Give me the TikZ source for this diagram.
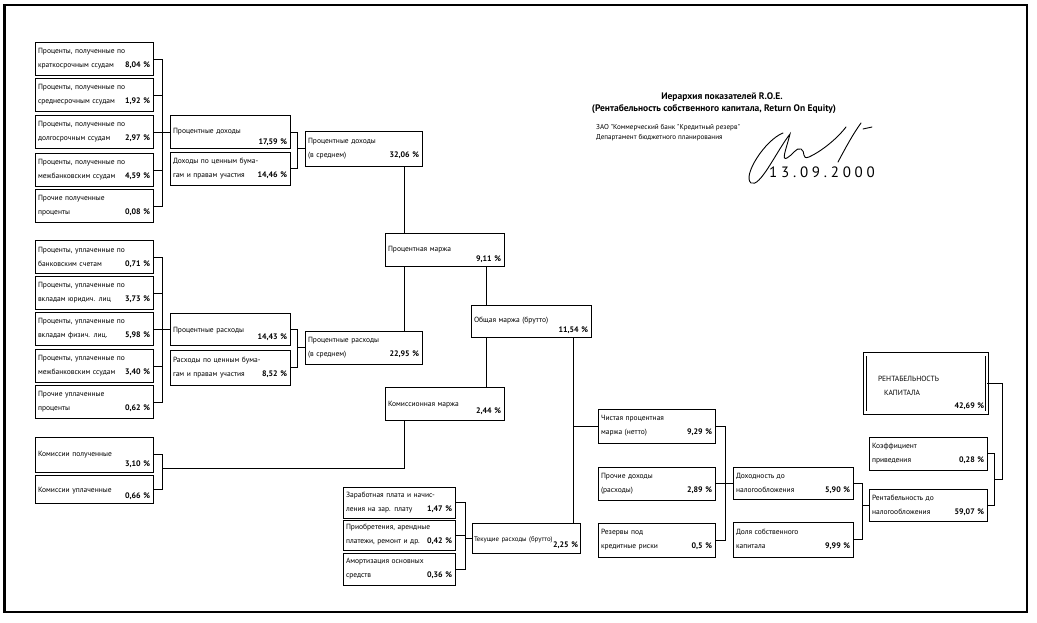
\documentclass[tikz,border=0pt]{standalone}
\usepackage{fontspec}
\newfontfamily\diag{PT Sans}
\newcommand\boxfont{\diag\fontsize{7.5}{14}\selectfont}
\newcommand\pv[1]{{\bfseries\fontsize{8}{14}\selectfont #1~\%}}
\newcommand\pc[1]{\hfill\pv{#1}}
\newcommand\one[3][10pt]{\hbox to\linewidth{\rule{0pt}{15pt}#2\hfill\raisebox{-#1}{\pv{#3}}}}

\begin{document}
\begin{tikzpicture}[x=1pt,y=-1pt,
    ind/.style={draw, line width=0.7pt, inner sep=3pt, text width=#1,
      minimum height=33pt, align=left, font=\boxfont},
    ind/.default=112pt,
    link/.style={line width=0.7pt}]
    \useasboundingbox (0,0) rectangle (1037,622);
    % frame
    \draw[line width=1.5pt] (5,5) rectangle (1027,612);
    \draw[line width=3pt] (4,4) -- (4,613);
    \draw[line width=2.5pt] (3,612) -- (1027,612);
    % heading
    \node[font=\diag\bfseries\fontsize{9.5}{11}\selectfont] (ttl) at (722,97) {Иерархия показателей R.O.E.};
    \node[font=\diag\bfseries\fontsize{9.5}{11}\selectfont] (sub) at (714,109) {(Рентабельность собственного капитала, Return On Equity)};
    \node[font=\diag\fontsize{7.1}{9}\selectfont, anchor=west, inner sep=0pt] (org) at (596,128) {ЗАО "Коммерческий банк "Кредитный резерв"};
    \node[font=\diag\fontsize{7.1}{9}\selectfont, anchor=west, inner sep=0pt] (dept) at (596,137.5) {Департамент бюджетного планирования};
    % signature and date
    \draw[line width=0.9pt, line cap=round] (783,133) .. controls (765,140) and (742,176) .. (751,183)
      .. controls (760,188) and (776,152) .. (790,134) .. controls (786,150) and (781,161) .. (787,158)
      .. controls (793,155) and (796,147) .. (801,149) .. controls (806,151) and (801,160) .. (809,157)
      .. controls (820,152) and (836,140) .. (846,127);
    \draw[line width=0.9pt, line cap=round] (838,162) .. controls (846,147) and (853,134) .. (861,123);
    \draw[line width=0.9pt, line cap=round] (863,129) -- (872,127);
    \node[font=\diag\fontsize{15}{15}\selectfont\addfontfeature{LetterSpace=25}] (date) at (822,172) {13.09.2000};
    % interest received
    \foreach \n/\y/\a/\b/\p in {1/59/{Проценты, полученные по}/{краткосрочным ссудам}/{8,04},
        2/95/{Проценты, полученные по}/{среднесрочным ссудам}/{1,92},
        3/132/{Проценты, полученные по}/{долгосрочным ссудам}/{2,97},
        4/170/{Проценты, полученные по}/{межбанковским ссудам}/{4,59},
        5/206/{Прочие полученные}/{проценты}/{0,08}}
      \node[ind] (k\n) at (94,\y) {\a\\\b\pc{\p}};
    % interest paid
    \foreach \n/\y/\a/\b/\p in {1/257/{Проценты, уплаченные по}/{банковским счетам}/{0,71},
        2/293/{Проценты, уплаченные по}/{вкладам юридич. лиц}/{3,73},
        3/329/{Проценты, уплаченные по}/{вкладам физич. лиц.}/{5,98},
        4/366/{Проценты, уплаченные по}/{межбанковским ссудам}/{3,40},
        5/402/{Прочие уплаченные}/{проценты}/{0,62}}
      \node[ind] (u\n) at (94,\y) {\a\\\b\pc{\p}};
    % commissions
    \node[ind, minimum height=35pt] (km1) at (94,454.5) {\one{Комиссии полученные}{3,10}};
    \node[ind, minimum height=28pt] (km2) at (94,489) {\one[6pt]{Комиссии уплаченные}{0,66}};
    % second level
    \node[ind=114pt, minimum height=30pt] (d1) at (230,132) {\one[11pt]{Процентные доходы}{17,59}};
    \node[ind=114pt] (d2) at (230,168.5) {Доходы по ценным бума-\\гам и правам участия\pc{14,46}};
    \node[ind=114pt, minimum height=32pt] (r1) at (230,329) {\one[7pt]{Процентные расходы}{14,43}};
    \node[ind=114pt, minimum height=35pt] (r2) at (230,367.5) {Расходы по ценным бума-\\гам и правам участия\pc{8,52}};
    \node[ind=111pt, minimum height=35pt] (ds) at (363.5,148.5) {Процентные доходы\\(в среднем)\pc{32,06}};
    \node[ind=111pt] (rs) at (363.5,347.5) {Процентные расходы\\(в среднем)\pc{22,95}};
    % margins
    \node[ind=113pt] (pm) at (444.5,249.5) {\one{Процентная маржа}{9,11}};
    \node[ind=114pt, minimum height=32pt] (om) at (531,321) {\one{Общая маржа (брутто)}{11,54}};
    \node[ind=113pt] (kom) at (444.5,403.5) {\one[7pt]{Комиссионная маржа}{2,44}};
    % running costs
    \node[ind=106pt, minimum height=31pt] (z1) at (399,502.5) {Заработная плата и начис-\\ления на зар. плату\pc{1,47}};
    \node[ind=106pt, minimum height=30pt] (z2) at (399,535) {Приобретения, арендные\\платежи, ремонт и др.\pc{0,42}};
    \node[ind=106pt, minimum height=32pt] (z3) at (399,569) {Амортизация основных\\средств\pc{0,36}};
    \node[ind=104pt, inner xsep=2pt, minimum height=30pt] (tr) at (526,538)
      {\one[6pt]{\fontsize{6.8}{14}\selectfont Текущие расходы (брутто)}{2,25}};
    % right part
    \node[ind=111pt, minimum height=34pt] (n1) at (656.5,426) {Чистая процентная\\маржа (нетто)\pc{9,29}};
    \node[ind=111pt] (n2) at (656.5,483.5) {Прочие доходы\\(расходы)\pc{2,89}};
    \node[ind=111pt, minimum height=34pt] (n3) at (656.5,540) {Резервы под\\кредитные риски\pc{0,5}};
    \node[ind=114pt, minimum height=32pt] (doh) at (793,483) {Доходность до\\налогообложения\pc{5,90}};
    \node[ind=114pt, minimum height=35pt] (dol) at (793,539.5) {Доля собственного\\капитала\pc{9,99}};
    \node[ind] (kf) at (928,453.5) {Коэффициент\\приведения\pc{0,28}};
    \node[ind, minimum height=32pt] (rd) at (928,505) {Рентабельность до\\налогообложения\pc{59,07}};
    \node[ind=116pt, minimum height=54pt, line width=0.8pt, double, double distance=2.5pt] (rk) at (926,383.5)
      {\rule{0pt}{24pt}\hspace*{10pt}РЕНТАБЕЛЬНОСТЬ\\\hspace*{16pt}КАПИТАЛА\hfill\raisebox{-13pt}{\pv{42,69}}};
    % brackets
    \coordinate (ba) at (162,0);
    \coordinate (bb) at (297,0);
    \coordinate (bd) at (465,0);
    \coordinate (be) at (725,0);
    \coordinate (bf) at (862,0);
    \coordinate (bg) at (994,0);
    \draw[link] (k1.east) -| (ba |- k5.east) -- (k5.east);
    \foreach \i in {2,3,4} \draw[link] (k\i.east) -- (k\i.east -| ba);
    \draw[link] (ba |- d1.west) -- (d1.west);
    \draw[link] (u1.east) -| (ba |- u5.east) -- (u5.east);
    \foreach \i in {2,3,4} \draw[link] (u\i.east) -- (u\i.east -| ba);
    \draw[link] (ba |- r1.west) -- (r1.west);
    \draw[link] (d1.east) -| (bb |- d2.east) -- (d2.east);
    \draw[link] (bb |- ds.west) -- (ds.west);
    \draw[link] (r1.east) -| (bb |- r2.east) -- (r2.east);
    \draw[link] (bb |- rs.west) -- (rs.west);
    \draw[link] (km1.east) -| (ba |- km2.east) -- (km2.east);
    \coordinate (bc) at (162,468);
    \draw[link] (bc) -| ([xshift=-40pt]kom.south);
    % vertical links
    \draw[link] ([xshift=-40pt]pm.north) -- ([xshift=-40pt]pm.north |- ds.south);
    \draw[link] ([xshift=-40pt]pm.south) -- ([xshift=-40pt]pm.south |- rs.north);
    \draw[link] ([xshift=42pt]pm.south) -- ([xshift=42pt]pm.south |- om.north);
    \draw[link] ([xshift=42pt]kom.north) -- ([xshift=42pt]kom.north |- om.south);
    \draw[link] ([xshift=42pt]om.south) -- ([xshift=42pt]om.south |- tr.north);
    \draw[link] ([xshift=42pt]om.south |- n1.west) -- (n1.west);
    % running costs bracket
    \draw[link] (z1.east) -| (bd |- z3.east) -- (z3.east);
    \draw[link] (z2.east) -- (z2.east -| bd);
    \draw[link] (bd |- tr.west) -- (tr.west);
    % right brackets
    \draw[link] (n1.east) -| (be |- n3.east) -- (n3.east);
    \draw[link] (n2.east) -- (n2.east -| be);
    \draw[link] (be |- doh.west) -- (doh.west);
    \draw[link] (doh.east) -| (bf |- dol.east) -- (dol.east);
    \draw[link] (bf |- rd.west) -- (rd.west);
    \draw[link] (kf.east) -| (bg |- rd.east) -- (rd.east);
    \coordinate (bh) at (994,479);
    \draw[link] (bh) -- ++(8,0) |- (rk.east);
\end{tikzpicture}
\end{document}
